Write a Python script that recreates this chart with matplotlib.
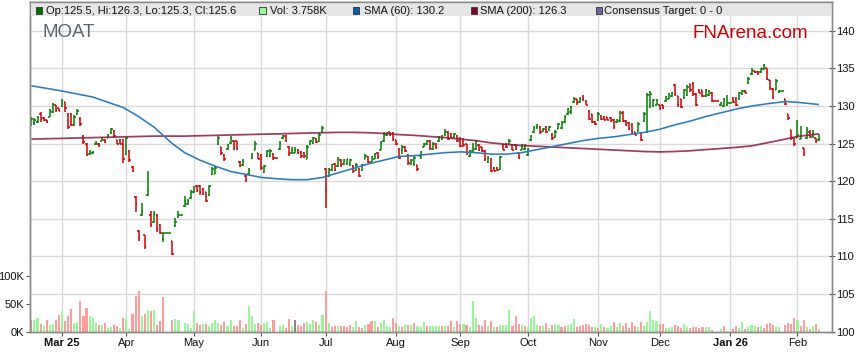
import numpy as np
import pandas as pd
import matplotlib
matplotlib.use("Agg")
import matplotlib.pyplot as plt
from matplotlib.collections import LineCollection
from matplotlib.patches import Rectangle
from matplotlib.lines import Line2D

plt.rcParams['font.family'] = ['Liberation Sans', 'DejaVu Sans']

# ---------------- data ----------------
ticker = "MOAT"
start_date = "2025-02-17"
end_date = "2026-02-11"
holidays = ["2025-04-18", "2025-04-21", "2025-04-25", "2025-06-09",
            "2025-12-25", "2025-12-26", "2026-01-01", "2026-01-26"]

ohlc_rows = [
    (127.6,128.6,127.3,128.3),(127.7,128.4,127.5,128.2),(127.9,128.7,127.7,128.5),(129.0,129.2,127.9,128.3),
    (128.4,128.6,128.0,128.1),(128.1,128.2,127.7,127.9),(128.6,129.6,128.5,129.4),(129.2,130.4,129.1,130.3),
    (130.1,130.2,129.2,129.5),(129.7,129.8,129.3,129.4),(130.0,131.0,129.9,130.7),(130.5,130.6,129.2,129.8),
    (129.0,129.1,127.0,127.2),(129.0,129.1,127.3,127.5),(127.5,128.8,127.3,128.5),(128.9,129.6,128.8,129.4),
    (128.3,128.5,127.4,127.6),(126.0,126.1,125.0,125.2),(125.0,125.1,123.4,123.5),(123.6,124.1,123.5,123.9),
    (123.7,124.0,123.6,123.9),(124.9,125.3,124.8,125.1),(125.0,125.1,124.6,124.8),(125.4,125.9,125.3,125.8),
    (125.5,125.6,125.1,125.2),(125.8,126.3,125.7,126.2),(126.4,127.1,126.3,126.9),(126.7,126.8,125.9,126.0),
    (125.5,125.5,124.9,125.0),(125.5,125.6,124.9,125.0),(125.0,125.6,122.4,123.0),(123.6,125.9,123.5,125.8),
    (124.0,124.1,122.6,122.8),(121.9,122.0,121.2,121.3),(117.9,118.0,115.9,116.9),(113.4,113.5,112.0,112.4),
    (115.5,117.1,115.4,116.0),(112.8,112.9,111.0,111.3),(118.1,121.4,118.0,118.8),(115.5,116.0,113.9,114.2),
    (114.6,116.0,114.5,115.6),(115.5,115.7,113.3,113.6),(114.2,114.3,113.0,113.1),(112.3,113.2,111.9,113.1),
    (112.0,112.0,110.2,110.3),(114.0,115.1,113.9,114.6),(115.2,116.0,115.1,115.5),
    (116.7,118.0,116.6,117.3),(116.9,117.6,116.8,117.4),(117.7,118.8,117.6,118.5),(118.5,119.3,118.4,119.1),
    (119.4,119.5,118.6,118.8),(119.3,119.5,118.2,118.5),(119.0,119.1,118.1,118.3),(118.5,118.6,117.2,117.4),
    (118.1,119.5,118.0,119.3),(120.9,121.9,120.8,121.6),(121.0,122.0,120.9,121.7),(124.9,126.0,124.8,125.7),
    (124.5,124.6,123.5,123.7),(123.5,123.6,122.7,122.9),(124.3,125.0,124.2,124.8),(125.1,126.0,125.0,125.8),
    (125.4,125.5,124.2,124.4),(125.3,125.4,124.2,124.3),(122.6,122.7,121.9,122.0),(122.1,122.9,122.0,122.7),
    (120.7,120.8,119.9,120.1),(120.9,121.7,120.8,121.5),(123.1,123.7,123.0,123.5),(124.2,125.3,124.1,125.0),
    (123.7,123.7,122.9,123.0),(123.5,123.6,121.5,121.7),(121.2,122.2,121.1,122.0),(123.3,124.2,123.2,124.0),
    (123.3,124.3,123.2,124.0),(123.6,123.7,122.8,123.1),
    (124.3,125.3,124.2,125.1),(125.7,126.2,125.6,126.0),(126.0,126.1,125.2,125.4),(124.6,124.7,123.4,123.6),
    (123.7,124.5,123.6,124.1),(123.8,124.5,123.7,124.2),(124.2,124.3,123.6,123.7),(123.9,124.0,123.1,123.3),
    (123.8,123.9,123.1,123.3),(123.0,124.8,122.9,124.6),(124.9,125.5,124.8,125.4),(125.1,125.9,125.0,125.7),
    (125.6,125.7,125.1,125.2),(125.3,126.4,125.2,126.2),(126.5,127.3,126.4,127.1),(121.6,121.8,116.4,118.7),
    (120.7,121.8,120.5,121.6),(121.5,122.3,121.4,122.1),(122.3,122.4,121.3,121.5),(122.0,123.2,121.9,123.0),
    (122.8,122.9,121.9,122.1),(122.3,123.0,122.2,122.8),(122.3,123.0,122.2,122.9),(122.3,123.0,122.0,122.8),
    (122.0,122.1,121.1,121.3),(121.5,122.4,121.4,122.2),(121.6,121.7,120.5,120.7),(121.5,122.3,121.4,122.1),
    (123.0,123.6,122.9,123.4),(123.2,123.3,122.4,122.6),(122.6,123.4,122.5,123.2),(123.0,123.8,122.9,123.6),
    (123.8,123.9,123.0,123.2),(124.2,125.3,124.1,125.1),(125.3,126.5,125.2,126.3),(126.2,126.6,126.0,126.4),
    (126.5,126.6,126.0,126.2),(126.4,126.5,125.4,125.6),(125.5,125.5,124.8,124.9),(124.3,124.4,122.9,123.1),
    (124.1,124.8,123.6,124.5),(124.6,124.7,123.9,124.0),(123.5,123.6,122.2,122.4),(122.3,123.0,122.2,122.8),
    (122.3,123.3,122.0,123.1),(122.1,122.2,121.4,121.6),(123.3,124.0,123.0,123.9),(124.6,125.1,124.5,124.9),
    (124.9,125.5,124.8,125.3),(125.4,125.5,124.2,124.4),(124.3,125.2,124.2,125.0),(125.0,125.1,124.3,124.5),
    (125.3,126.0,125.2,125.8),(125.6,126.2,125.5,126.0),(126.1,127.0,126.0,126.6),(126.6,126.7,125.5,125.6),
    (126.3,126.4,125.7,125.8),(125.9,126.4,125.8,126.3),(126.0,126.1,125.2,125.4),(125.8,125.9,124.5,124.7),
    (125.6,125.7,124.6,124.8),(124.9,124.9,123.5,123.6),(123.3,124.2,123.2,124.0),(124.0,125.1,123.9,124.9),
    (124.3,125.5,124.2,125.3),(124.8,124.9,124.0,124.1),(124.5,124.6,123.9,124.0),(124.0,124.1,122.7,122.9),
    (122.6,123.3,122.4,123.1),(123.0,123.1,121.2,121.4),(121.8,121.9,121.3,121.4),(121.8,121.9,121.3,121.5),
    (121.6,123.4,121.5,123.2),(124.7,124.9,124.1,124.2),(125.0,125.1,124.4,124.5),(125.0,125.6,124.9,125.4),
    (124.8,124.9,124.1,124.2),(124.8,124.9,124.2,124.3),(123.7,123.8,122.9,123.1),(124.2,124.9,124.1,124.7),
    (124.3,124.9,124.2,124.7),(123.5,124.4,123.3,124.3),(125.5,126.1,125.4,126.0),(126.6,127.3,126.4,127.1),
    (127.2,127.6,127.0,127.5),(127.2,127.3,126.3,126.5),(126.7,127.1,126.6,127.0),(127.2,127.3,126.4,126.6),
    (126.8,127.4,126.7,127.2),(126.2,126.4,125.5,125.7),(125.9,126.8,125.8,126.6),(127.0,127.8,126.9,127.6),
    (127.1,128.0,127.0,127.8),(127.9,128.8,127.8,128.6),(128.9,129.8,128.8,129.6),(129.2,130.0,129.0,129.9),
    (130.5,131.2,130.4,131.0),(130.9,131.0,130.2,130.4),(130.5,131.2,130.4,131.0),(131.4,131.5,130.7,130.9),
    (130.7,130.8,130.1,130.2),(129.4,129.5,128.1,128.3),(128.9,129.0,127.7,127.9),(127.9,128.0,127.5,127.6),
    (128.1,129.2,128.0,129.0),(128.7,128.8,128.2,128.3),(128.6,128.7,128.1,128.2),(128.5,128.6,128.1,128.2),
    (128.4,128.5,127.9,128.0),(128.2,128.3,127.0,127.2),(127.9,128.3,127.8,128.2),(128.0,129.4,127.9,129.2),
    (129.1,129.3,127.9,128.0),(128.0,128.2,127.3,127.5),(127.7,127.9,126.8,127.0),(127.5,127.7,126.3,126.5),
    (126.5,126.6,126.1,126.2),(126.7,127.9,126.6,127.6),(126.4,126.5,125.3,125.5),(128.0,129.2,127.9,129.0),
    (126.6,131.8,126.4,131.5),(130.0,132.0,129.8,131.6),(130.0,131.0,129.9,130.8),(130.2,131.0,130.1,130.8),
    (130.1,130.2,129.5,129.7),(130.1,130.2,129.6,129.7),(130.7,131.4,130.6,131.2),(131.0,131.8,130.9,131.6),
    (131.3,131.9,131.2,131.8),(132.8,133.0,131.4,131.6),(131.3,131.4,129.9,130.1),(130.9,131.0,129.7,129.9),
    (131.1,132.3,131.0,132.1),(131.5,132.8,131.4,132.6),(132.9,133.0,131.9,132.1),(133.0,133.2,131.4,131.6),
    (131.6,131.7,130.0,130.2),(132.2,132.3,131.7,131.8),(132.1,132.2,131.2,131.4),(131.3,132.3,131.2,132.1),
    (131.5,132.1,131.4,132.0),(131.8,131.9,130.6,130.7),
    (130.1,130.5,130.0,130.4),(130.0,131.1,129.9,130.9),(130.1,131.5,130.0,130.4),
    (131.1,131.2,130.4,130.5),(131.0,131.2,130.0,130.2),(130.9,131.9,130.8,131.7),(131.6,132.1,131.5,132.0),
    (132.0,132.1,131.7,131.8),(133.1,133.8,133.0,133.6),(134.2,135.0,134.1,134.8),(134.6,134.7,134.4,134.5),
    (134.5,134.6,134.1,134.2),(134.5,135.1,134.4,135.0),(134.9,135.6,134.8,135.4),(135.0,135.1,133.5,133.6),
    (133.4,133.5,132.2,132.4),(132.3,132.4,131.0,131.2),(132.2,133.6,132.1,133.3),(131.9,132.2,131.8,132.0),
    (131.0,131.0,130.1,130.3),(129.0,129.0,128.2,128.4),(126.8,126.8,125.5,125.8),(125.7,125.7,124.7,125.0),
    (125.8,128.1,125.7,126.2),(125.6,127.3,125.6,126.0),(124.4,124.4,123.3,123.6),(125.7,127.2,125.6,126.8),
    (126.6,126.8,125.7,126.0),(125.9,126.8,125.8,126.4),(125.7,125.7,125.1,125.3),(125.5,126.3,125.3,125.6),
]
opens = [r[0] for r in ohlc_rows]
highs = [r[1] for r in ohlc_rows]
lows = [r[2] for r in ohlc_rows]
closes = [r[3] for r in ohlc_rows]

# volume in thousands
volume_k = [
    20,21,24,14,10,21,12,14,21,30, 36,19,28,41,16,17,54,27,43,28,
    25,16,12,12,16,7,8,12,10,7, 25,23,5,32,63,72,27,32,39,36, 39,12,19,61,
    21,23,21,
    16,14,7,36,16,12,14,14,10,16, 21,16,12,17,10,21,10,10,21,7,
    14,45,28,14,16,12,16,17,7,21,
    10,12,6,23,10,21,12,10,16,17, 14,21,17,12,30,72,16,8,10,10,
    10,10,8,12,8,19,8,7,12,14, 19,19,8,16,21,10,8,25,16,10,
    8,12,12,12,16,10,8,17,10,10, 10,10,10,10,10,10,19,8,18,14,
    14,12,8,54,25,12,10,21,10,19, 8,8,12,12,12,38,10,27,14,12,
    10,8,25,27,12,10,10,16,7,12, 14,12,8,10,12,14,23,8,10,12,
    14,12,8,8,6,14,8,6,10,17, 8,16,10,16,6,17,10,8,17,10,
    17,36,21,19,14,14,6,6,8,12, 10,6,14,8,6,8,8,6,8,8,
    8,3,
    5,10,1,
    5,10,6,17,5,8,12,10,8,10,6,14,16,12,8,8,
    12,16,14,25,21,10,21,8,5,10,14,3.758,
]
# volume bar direction: u = up, d = down, n = unchanged
volume_dir = "".join([
    "duududuudd", "uddduudddu", "uududuuddu", "duudddudud", "uddd",
    "duu",
    "uuuudduduu", "uudduudddu", "duuudduuud",
    "uuddundddu", "uuduududdu", "dddduuddud", "duduuuuddu", "dududuuudu",
    "uuududdudd", "uduuudddud", "uduuuudddu", "duuuududud", "uudduuuddd",
    "dddududuud", "uudddddudu", "uuuudduuud", "dduudddddu", "ud",
    "udu",
    "dduuduuudu", "dddduu",
    "dddduddududu",
])

sma_dates = ["2025-02-17", "2025-03-03", "2025-03-17", "2025-03-24", "2025-03-31", "2025-04-07",
             "2025-04-14", "2025-04-22", "2025-04-28", "2025-05-05", "2025-05-12", "2025-05-19",
             "2025-05-26", "2025-06-02", "2025-06-10", "2025-06-16", "2025-06-23", "2025-06-30",
             "2025-07-07", "2025-07-14", "2025-07-21", "2025-07-28", "2025-08-04", "2025-08-11",
             "2025-08-18", "2025-08-25", "2025-09-01", "2025-09-08", "2025-09-15", "2025-09-22",
             "2025-09-29", "2025-10-06", "2025-10-13", "2025-10-20", "2025-10-27", "2025-11-03",
             "2025-11-10", "2025-11-17", "2025-11-24", "2025-12-01", "2025-12-08", "2025-12-15",
             "2025-12-22", "2025-12-29", "2026-01-05", "2026-01-12", "2026-01-19", "2026-01-27",
             "2026-02-02", "2026-02-11"]
sma60 = [132.7, 132.0, 131.2, 130.5, 129.8, 128.6, 127.2, 125.0, 123.8, 122.8, 122.0, 121.3,
         120.9, 120.5, 120.3, 120.2, 120.2, 120.5, 121.1, 121.7, 122.3, 122.8, 123.3, 123.4,
         123.6, 123.8, 123.9, 123.8, 123.6, 123.6, 123.8, 124.2, 124.6, 125.0, 125.4, 125.7,
         125.9, 126.2, 126.5, 126.9, 127.5, 128.0, 128.6, 129.1, 129.6, 130.0, 130.3, 130.6,
         130.5, 130.2]
sma200 = [125.6, 125.7, 125.8, 125.85, 125.9, 125.95, 126.0, 126.0, 126.0, 126.05, 126.1, 126.15,
          126.2, 126.25, 126.3, 126.35, 126.4, 126.45, 126.5, 126.5, 126.45, 126.35, 126.2, 126.1,
          125.95, 125.8, 125.6, 125.4, 125.1, 124.9, 124.75, 124.65, 124.55, 124.45, 124.35, 124.25,
          124.15, 124.05, 123.95, 123.9, 123.95, 124.05, 124.2, 124.35, 124.5, 124.7, 125.1, 125.6,
          125.95, 126.3]

price_ticks = [100, 105, 110, 115, 120, 125, 130, 135, 140]
vol_ticks_k = [0, 50, 100]
vol_tick_labels = ["0K", "50K", "100K"]
month_starts = ["2025-03-03", "2025-04-01", "2025-05-01", "2025-06-02", "2025-07-01", "2025-08-01",
                "2025-09-01", "2025-10-01", "2025-11-03", "2025-12-01", "2026-01-01", "2026-02-02"]
month_labels = ["Mar 25", "Apr", "May", "Jun", "Jul", "Aug", "Sep", "Oct", "Nov", "Dec", "Jan 26", "Feb"]
bold_labels = {"Mar 25", "Jan 26"}
legend_text = {
    "ohlc": "Op:125.5, Hi:126.3, Lo:125.3, Cl:125.6",
    "vol": "Vol: 3.758K",
    "sma60": "SMA (60): 130.2",
    "sma200": "SMA (200): 126.3",
    "target": "Consensus Target: 0 - 0",
}
brand = "FNArena.com"

# ---------------- positions ----------------
weekdays = pd.bdate_range(start_date, end_date)
trade_days = weekdays[~weekdays.isin(pd.to_datetime(holidays))]
wpos = {d: i for i, d in enumerate(weekdays)}
x = np.array([wpos[d] for d in trade_days], dtype=float)
assert len(x) == len(opens) == len(volume_k) == len(volume_dir), (len(x), len(opens), len(volume_k), len(volume_dir))

def to_x(dates):
    return np.array([wpos[pd.Timestamp(d)] for d in dates], dtype=float)

# ---------------- figure ----------------
W, H = 859, 363
fig = plt.figure(figsize=(W / 100, H / 100), dpi=100)
L, R, B, T = 30, 831.5, 331.5, 2
axv = fig.add_axes([L / W, (H - B) / H, (R - L) / W, (B - T) / H])
axp = axv.twinx()

pmin, pmax = 100, 100 + (B - T) / 7.515
vmax = (B - T) / 55.8 * 100000
xmin, xmax = -0.45, 261.1
axv.set_xlim(xmin, xmax)
axv.set_ylim(0, vmax)
axp.set_ylim(pmin, pmax)

grid_c = "#d9d9d9"
for p in price_ticks[1:]:
    axv.axhline((p - pmin) / (pmax - pmin) * vmax, color=grid_c, lw=1.0, zorder=0)
mx = to_x(month_starts)
for xx in mx:
    axv.axvline(xx, color=grid_c, lw=1.0, zorder=0)

# volume bars
vcol = {"u": "#98f898", "d": "#ff9c9c", "n": "#888888"}
axv.bar(x, np.array(volume_k) * 1000, width=0.68, color=[vcol[c] for c in volume_dir],
        linewidth=0, zorder=1)

# OHLC bars
o = np.array(opens); h = np.array(highs); lo = np.array(lows); c = np.array(closes)
nxt = np.append(x[1:], x[-1] + 1)
segs, cols = [], []
for i in range(len(x)):
    col = "#008000" if c[i] >= o[i] else "#d00000"
    segs.append([(x[i], lo[i]), (x[i], h[i])])
    segs.append([(x[i] - 0.48, o[i]), (x[i], o[i])])
    segs.append([(x[i], c[i]), (nxt[i] - 0.52, c[i])])
    cols += [col] * 3
axp.add_collection(LineCollection(segs, colors=cols, linewidths=1.1, zorder=2,
                                  capstyle="butt"))

# SMAs
sx = to_x(sma_dates)
axp.plot(sx, sma60, color="#2a7cbc", lw=1.15, zorder=2.2, solid_capstyle="butt")
axp.plot(sx, sma200, color="#8c1a40", lw=1.25, alpha=0.85, zorder=2.1, solid_capstyle="butt")

# axes styling
for ax in (axv, axp):
    for s in ax.spines.values():
        s.set_color("#8a8a8a")
        s.set_linewidth(1.0)
axp.set_yticks(price_ticks)
axp.set_yticklabels([str(p) for p in price_ticks])
axp.tick_params(axis="y", direction="inout", length=4, width=0.8, color="#555555",
                labelsize=8, pad=1.5, labelcolor="#111111")
axv.set_yticks([v * 1000 for v in vol_ticks_k])
axv.set_yticklabels(vol_tick_labels)
axv.tick_params(axis="y", direction="out", length=3, width=0.8, color="#555555",
                labelsize=8, pad=1, labelcolor="#111111")
axv.set_xticks(mx)
axv.set_xticklabels(month_labels)
axv.tick_params(axis="x", direction="out", length=3, width=0.8, color="#555555",
                labelsize=8, pad=2, labelcolor="#111111")
for lab in axv.get_xticklabels():
    if lab.get_text() in bold_labels:
        lab.set_fontweight("bold")

def ax_frac(px, py):
    return (px - L) / (R - L), (B - py) / (B - T)

fx, fy = ax_frac(42, 32.5)
axp.text(fx, fy, ticker, transform=axp.transAxes, fontsize=13.5, color="#5c6470",
         ha="left", va="center", zorder=3)
fx, fy = ax_frac(692.5, 33.5)
axp.text(fx, fy, brand, transform=axp.transAxes, fontsize=13.5, color="#cc0000",
         ha="left", va="center", zorder=3)

# header band
fig.add_artist(Rectangle(((L + 0.6) / W, (H - 16) / H), (R - L - 1.2) / W, (16 - T - 0.6) / H,
                         transform=fig.transFigure, facecolor="#e6e6e6", edgecolor="none",
                         zorder=1))
fig.add_artist(Line2D([L / W, R / W], [(H - T) / H, (H - T) / H], transform=fig.transFigure,
                      color="#8a8a8a", lw=1.0, zorder=1.5))

legend_items = [
    (35.7, "#007000", legend_text["ohlc"], 46.5),
    (259.3, "#98f898", legend_text["vol"], 270),
    (352.7, "#0a5f9e", legend_text["sma60"], 364),
    (470.7, "#7a0a2c", legend_text["sma200"], 480.5),
    (595.7, "#6a6a98", legend_text["target"], 604),
]
for sx0, scol, txt, tx0 in legend_items:
    fig.add_artist(Rectangle((sx0 / W, (H - 14) / H), 6.6 / W, 6.6 / H, transform=fig.transFigure,
                             facecolor=scol, edgecolor="#333333", lw=0.6, zorder=2))
    fig.text(tx0 / W, (H - 10.5) / H, txt, fontsize=8, color="#111111", ha="left", va="center",
             zorder=3)

fig.savefig("out.png", dpi=100)
